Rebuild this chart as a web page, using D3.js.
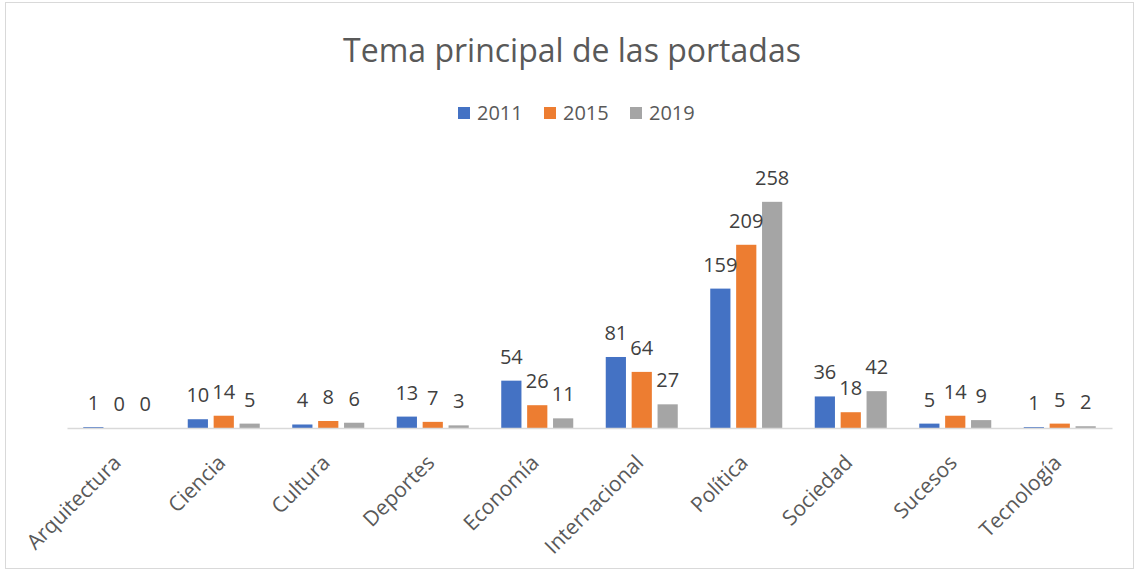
<!DOCTYPE html>
<html>
<head>
<meta charset="utf-8">
<script src="https://cdn.jsdelivr.net/npm/d3@7"></script>
<style>
  body { margin: 0; background: #fff; }
  text { font-family: "Open Sans", "Liberation Sans", sans-serif; }
</style>
</head>
<body>
<div id="chart"></div>
<script>
var categories = ["Arquitectura", "Ciencia", "Cultura", "Deportes", "Economía", "Internacional", "Política", "Sociedad", "Sucesos", "Tecnología"];
var years = ["2011", "2015", "2019"];
var v2011 = [1, 10, 4, 13, 54, 81, 159, 36, 5, 1];
var v2015 = [0, 14, 8, 7, 26, 64, 209, 18, 14, 5];
var v2019 = [0, 5, 6, 3, 11, 27, 258, 42, 9, 2];
var colorList = ["#4472C4", "#ED7D31", "#A5A5A5"];

var conf = { width: 1134, height: 570, left: 67, right: 1112, base: 428, top: 165 };

var series = [v2011, v2015, v2019];

var $svg = d3.select("#chart").append("svg")
	.attr("width", conf.width)
	.attr("height", conf.height);

// outer frame
$svg.append("rect")
	.attr("x", 5.5).attr("y", 2.5)
	.attr("width", conf.width - 6).attr("height", conf.height - 4)
	.attr("fill", "none")
	.attr("stroke", "#d9d9d9")
	.attr("stroke-width", 1);

$svg.append("text")
	.attr("x", 572).attr("y", 62)
	.attr("text-anchor", "middle")
	.attr("fill", "#595959")
	.style("font-size", "32px")
	.text("Tema principal de las portadas");

var x0 = d3.scaleBand().domain(categories).range([conf.left, conf.right]);
var x1 = d3.scaleBand().domain(years).range([0, 72]).paddingInner(0.22);
var y = d3.scaleLinear().domain([0, 300]).range([conf.base, conf.top]);

var data = [];
categories.forEach(function(c, ci) {
	years.forEach(function(yr, si) {
		data.push({ cat: c, year: yr, value: series[si][ci], color: colorList[si] });
	});
});

var groupOffset = (x0.bandwidth() - 72) / 2;

$svg.selectAll("rect.bar").data(data).enter()
	.append("rect")
	.attr("class", "bar")
	.attr("x", function(d) { return x0(d.cat) + groupOffset + x1(d.year); })
	.attr("y", function(d) { return y(d.value); })
	.attr("width", x1.bandwidth())
	.attr("height", function(d) { return conf.base - y(d.value); })
	.attr("fill", function(d) { return d.color; });

$svg.selectAll("text.lbl").data(data).enter()
	.append("text")
	.attr("class", "lbl")
	.attr("x", function(d) { return x0(d.cat) + groupOffset + x1(d.year) + x1.bandwidth() / 2; })
	.attr("y", function(d) { return y(d.value) - 17; })
	.attr("text-anchor", "middle")
	.attr("fill", "#404040")
	.style("font-size", "20px")
	.text(function(d) { return d.value; });

// category axis
var xAxis = d3.axisBottom(x0).tickSize(0).tickPadding(0);
var $ax = $svg.append("g")
	.attr("transform", "translate(0," + conf.base + ")")
	.call(xAxis);
$ax.select(".domain").attr("stroke", "#d9d9d9").attr("stroke-width", 1.5);
$ax.selectAll("text")
	.attr("fill", "#595959")
	.style("font-size", "21px")
	.style("font-family", "'Open Sans', sans-serif")
	.attr("text-anchor", "end")
	.attr("dy", null)
	.attr("y", 0)
	.attr("transform", "translate(3,36) rotate(-45)");

// legend
var legendX = [458, 544, 630];
var $leg = $svg.selectAll("g.leg").data(years).enter()
	.append("g")
	.attr("class", "leg")
	.attr("transform", function(d, i) { return "translate(" + legendX[i] + ",107)"; });
$leg.append("rect")
	.attr("width", 12).attr("height", 12)
	.attr("fill", function(d, i) { return colorList[i]; });
$leg.append("text")
	.attr("x", 19).attr("y", 13)
	.attr("fill", "#595959")
	.style("font-size", "20px")
	.text(function(d) { return d; });
</script>
</body>
</html>
